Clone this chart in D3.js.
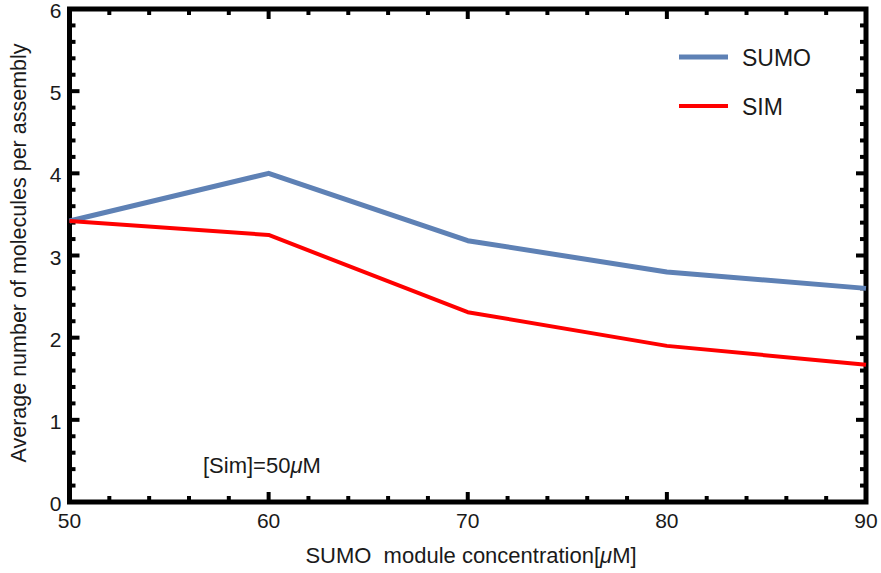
<!DOCTYPE html>
<html>
<head>
<meta charset="utf-8">
<script src="https://cdn.jsdelivr.net/npm/d3@7"></script>
<style>
  body { margin: 0; background: #fff; }
  text { font-family: "Liberation Sans", Arial, sans-serif; fill: #1a1a1a; }
</style>
</head>
<body>
<div id="chart"></div>
<script>
// concentrations (uM) and averages
const concentrations = [50, 60, 70, 80, 90]
const sumoValues = [3.42, 4.0, 3.18, 2.8, 2.6]
const simValues = [3.42, 3.25, 2.31, 1.9, 1.67]
const seriesNames = ["SUMO", "SIM"]
const seriesColors = ["#5e81b5", "#ff0000"]
const xTicks = [50, 60, 70, 80, 90]
const yTicks = [0, 1, 2, 3, 4, 5, 6]

const width = 881
const height = 573
const margins = { top: 9, right: 15, bottom: 71, left: 69.5 }

const svg = d3.select("#chart").append("svg")
    .attr("width", width)
    .attr("height", height)

const x = d3.scaleLinear()
    .domain([50, 90])
    .range([margins.left, width - margins.right])
const y = d3.scaleLinear()
    .domain([0, 6])
    .range([height - margins.bottom, margins.top])

// minor ticks on all four sides
const xMinor = d3.range(50, 90.01, 2)
const yMinor = d3.range(0, 6.01, 0.2)

const ticks = svg.append("g").attr("stroke", "#000").attr("stroke-width", 4)
xMinor.forEach(v => {
    const major = xTicks.includes(Math.round(v * 100) / 100)
    const len = major ? 10 : 6
    ticks.append("line").attr("x1", x(v)).attr("x2", x(v))
        .attr("y1", y(0)).attr("y2", y(0) - len)
    ticks.append("line").attr("x1", x(v)).attr("x2", x(v))
        .attr("y1", y(6)).attr("y2", y(6) + len)
})
yMinor.forEach(v => {
    const major = Math.abs(v - Math.round(v)) < 1e-6
    const len = major ? 10 : 6
    ticks.append("line").attr("y1", y(v)).attr("y2", y(v))
        .attr("x1", x(50)).attr("x2", x(50) + len)
    ticks.append("line").attr("y1", y(v)).attr("y2", y(v))
        .attr("x1", x(90)).attr("x2", x(90) - len)
})

svg.append("rect")
    .attr("x", x(50)).attr("y", y(6))
    .attr("width", x(90) - x(50)).attr("height", y(0) - y(6))
    .attr("fill", "none").attr("stroke", "#000").attr("stroke-width", 5)

// tick labels
svg.append("g").selectAll("text").data(xTicks).enter().append("text")
    .attr("x", d => x(d)).attr("y", y(0) + 26)
    .attr("text-anchor", "middle")
    .attr("font-size", 21)
    .text(d => d)
svg.append("g").selectAll("text").data(yTicks).enter().append("text")
    .attr("x", x(50) - 8).attr("y", d => y(d) + 9)
    .attr("text-anchor", "end")
    .attr("font-size", 21)
    .text(d => d)

// series
const line = d3.line().x(d => x(d[0])).y(d => y(d[1]))
const series = [sumoValues, simValues]
series.forEach((vals, i) => {
    const pts = concentrations.map((c, j) => [c, vals[j]])
    svg.append("path")
        .datum(pts)
        .attr("fill", "none")
        .attr("stroke", seriesColors[i])
        .attr("stroke-width", i === 0 ? 5 : 4)
        .attr("stroke-linejoin", "round")
        .attr("d", line)
    svg.append("g").selectAll("path").data(pts).enter().append("path")
        .attr("d", d3.symbol(d3.symbolTimes, 22))
        .attr("transform", d => `translate(${x(d[0])},${y(d[1]) + 2})`)
        .attr("fill", seriesColors[i])
})

// legend
seriesNames.forEach((name, i) => {
    const ly = 57 + i * 49
    svg.append("line")
        .attr("x1", 679).attr("x2", 728).attr("y1", ly).attr("y2", ly)
        .attr("stroke", seriesColors[i]).attr("stroke-width", i === 0 ? 5 : 4)
    svg.append("path")
        .attr("d", d3.symbol(d3.symbolTimes, 22))
        .attr("transform", `translate(703,${ly + 3})`)
        .attr("fill", seriesColors[i])
    svg.append("text")
        .attr("x", 742).attr("y", ly + 9)
        .attr("font-size", 23)
        .text(name)
})

// annotation
const note = svg.append("text").attr("x", 203).attr("y", 473).attr("font-size", 22)
note.append("tspan").text("[Sim]=50")
note.append("tspan").attr("font-style", "italic").text("μ")
note.append("tspan").text("M")

// axis titles
const xt = svg.append("text")
    .attr("x", 471).attr("y", 563)
    .attr("text-anchor", "middle")
    .attr("font-size", 22)
    .attr("xml:space", "preserve")
xt.append("tspan").text("SUMO  module concentration[")
xt.append("tspan").attr("font-style", "italic").text("μ")
xt.append("tspan").text("M]")

svg.append("text")
    .attr("transform", `translate(26,253) rotate(-90)`)
    .attr("text-anchor", "middle")
    .attr("font-size", 21.5)
    .text("Average number of molecules per assembly")
</script>
</body>
</html>
